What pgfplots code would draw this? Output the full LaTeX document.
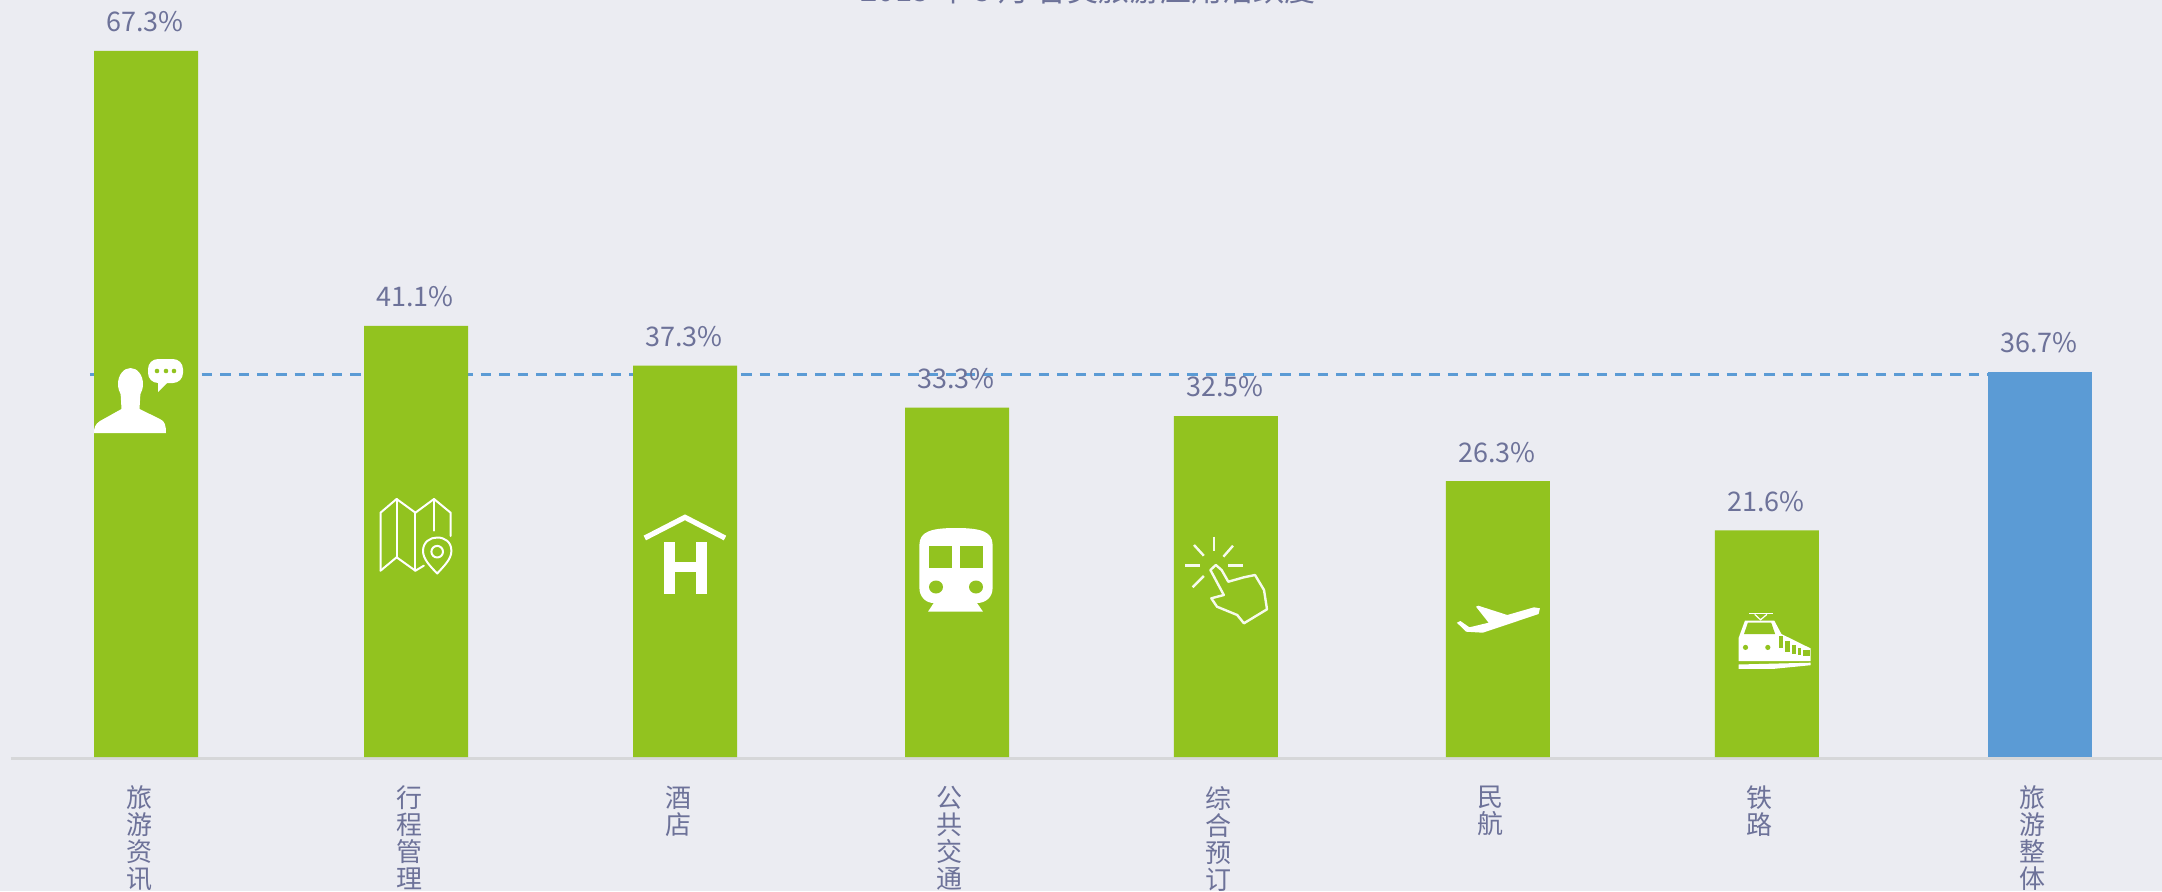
\documentclass[border=0pt]{standalone}
\usepackage{fontspec}
\setmainfont{Noto Sans CJK SC}
\usepackage{pgfplots}
\pgfplotsset{compat=1.18}
\definecolor{bg}{HTML}{EBECF2}
\definecolor{barg}{HTML}{92C31F}
\definecolor{barb}{HTML}{5B9BD5}
\definecolor{txt}{HTML}{6D7299}
\definecolor{base}{HTML}{D6D7D9}
\begin{document}
\begin{tikzpicture}
% 1 px of the reference = 0.5pt
\useasboundingbox[fill=bg] (0,0) rectangle (1081pt,445.5pt);
\clip (0,0) rectangle (1081pt,445.5pt);
\begin{axis}[
  at={(5.5pt,66.25pt)},
  anchor=south west,
  scale only axis,
  width=1075.5pt,
  height=379.25pt,
  xmin=-0.4989, xmax=7.450,
  ymin=-0.143, ymax=72.16,
  axis x line*=bottom,
  axis y line=none,
  x axis line style={-, draw=base, line width=1.5pt},
  xtick={0,0.998,1.992,2.997,3.991,4.996,5.990,6.999},
  xticklabels={{旅\\游\\资\\讯},{行\\程\\管\\理},{酒\\店},{公\\共\\交\\通},{综\\合\\预\\订},{民\\航},{铁\\路},{旅\\游\\整\\体}},
  xtick style={draw=none},
  xticklabel style={align=center, anchor=north, xshift=-3.5pt, yshift=-6pt, text=txt,
    font=\fontsize{13}{13.5}\selectfont},
  ytick=\empty,
  title={2015 年 5 月 各类旅游应用活跃度},
  every axis title shift=0pt,
  title style={at={(axis description cs:0.5,1)}, anchor=base, xshift=0.75pt, yshift=-0.5pt,
    text=txt, font=\fontsize{15.5}{18}\selectfont},
  ybar,
  bar width=52pt,
  bar shift=0pt,
  nodes near coords={\pgfmathprintnumber[fixed,precision=1,fixed zerofill,assume math mode=true]{\pgfplotspointmeta}\%},
  every node near coord/.append style={anchor=center, yshift=14.5pt, xshift=-0.5pt, text=txt,
    font=\fontsize{13.5}{16}\selectfont},
  clip=false,
]
% average line, behind the bars
\addplot[sharp plot, no markers, nodes near coords={}, draw=barb, line width=1.5pt,
  dash pattern=on 5.3pt off 4pt, forget plot] coordinates {(-0.207,36.5) (7.2,36.5)};
\addplot[ybar, fill=barg, draw=none] coordinates {
  (0,67.3) (0.998,41.1) (1.992,37.3) (2.997,33.3) (3.991,32.5) (4.996,26.3) (5.990,21.6)
};
\addplot[ybar, fill=barb, draw=none] coordinates {(6.999,36.7)};
\end{axis}
% icons, in pixel coordinates of the reference
\begin{scope}[x=0.5pt, y=-0.5pt, yshift=445.5pt]
  % person with speech bubble
  \fill[white] (130.5,384) ellipse (12.5 and 16);
  \fill[white] (120.5,392) -- (121.5,409) -- (100,421) .. controls (95,424) and (94,428) .. (94,433)
    -- (166,433) .. controls (166,426) and (165,421) .. (160,419) -- (139.5,409) -- (140.5,392) -- cycle;
  \fill[white, rounded corners=5] (148,359) rectangle (183,383);
  \fill[white] (158,380) -- (158,392) -- (168,382) -- cycle;
  \fill[barg] (157,371) circle (2.3) (166,371) circle (2.3) (174,371) circle (2.3);
  % map with pin
  \begin{scope}[draw=white, line width=1pt, line join=round, line cap=round]
    \draw (380.5,570.7) -- (380.5,512.7) -- (396.6,499) -- (415.4,512.7) -- (434,499) -- (450.6,512.7) -- (450.6,536);
    \draw (396.6,499) -- (396.6,557.3);
    \draw (380.5,570.7) -- (396.6,557.3) -- (415.4,570.7) -- (423.8,565.7);
    \draw (415.4,512.7) -- (415.4,570.7);
    \draw (434,499) -- (434,530.7);
    \draw (437.2,573.5) .. controls (430,566) and (423,559) .. (423,551)
      .. controls (423,542) and (430,537.5) .. (437.2,537.5)
      .. controls (445,537.5) and (451.4,542) .. (451.4,551)
      .. controls (451.4,559) and (444,566) .. (437.2,573.5) -- cycle;
    \draw (437.2,551.7) circle (5.8);
  \end{scope}
  % hotel
  \draw[white, line width=2.6pt] (644.8,538) -- (685,517.3) -- (725,538);
  \fill[white] (663.6,541.7) rectangle (674.6,594.3);
  \fill[white] (696.3,541.7) rectangle (707.3,594.3);
  \fill[white] (670,562) rectangle (700,572);
  % metro
  \fill[white] (919.4,545) .. controls (919.4,532) and (930,528) .. (956,528)
    .. controls (982,528) and (992.6,532) .. (992.6,545)
    -- (992.6,588) .. controls (992.6,597) and (986,603) .. (977,603)
    -- (983,611.7) -- (928,611.7) -- (933.7,603)
    .. controls (926,603) and (919.4,597) .. (919.4,588) -- cycle;
  \fill[barg] (929,546) rectangle (952,568);
  \fill[barg] (960,546) rectangle (983,568);
  \fill[barg] (936,587) ellipse (7 and 6.5);
  \fill[barg] (976,587) ellipse (7 and 6.5);
  % hand pressing
  \begin{scope}[draw=white!92!barg, line width=1.2pt, line join=round]
    \draw (1214,536.7) -- (1214,550.7);
    \draw (1194,545) -- (1203.8,555.7);
    \draw (1233,545.7) -- (1223.4,556.7);
    \draw (1185,565.3) -- (1200,565.3);
    \draw (1227.9,565.3) -- (1243,565.3);
    \draw (1203.8,576) -- (1192.6,587.3);
    \draw (1210.4,570) -- (1215.8,565) -- (1221.6,570) -- (1228.3,581.7) -- (1243.9,577.3)
      -- (1255,575) -- (1264,590) -- (1267,609.3) -- (1243.9,623.3) -- (1237.2,615)
      -- (1217,606.7) -- (1211.3,598.3) -- (1223.8,595) -- cycle;
  \end{scope}
  % plane
  \fill[white] (1539.9,608.3) -- (1534,607.3) -- (1507.3,615) -- (1478.3,605.7) -- (1476,606.7)
    -- (1488.6,622.7) -- (1469.4,627.3) -- (1460.4,621) -- (1456.9,622.7) -- (1463.6,629.3)
    -- (1466.2,631.7) -- (1482.8,632.7) -- (1538.6,614) -- cycle;
  % train
  \fill[white] (1745,620.5) -- (1774.2,620.5) -- (1781.4,634) -- (1810.6,648.4) -- (1810.6,661)
    -- (1738.7,661) -- (1738.7,637.7) -- cycle;
  \fill[white] (1738.7,664.5) -- (1810.6,662.7) -- (1810.6,665.2) -- (1774.2,668.8) -- (1738.7,668.8) -- cycle;
  \fill[barg] (1744,634) -- (1747.9,622.7) -- (1771.2,622.7) -- (1775.1,634) -- cycle;
  \fill[barg] (1745.5,647.4) circle (2.6) (1767.8,647.4) circle (2.6);
  \draw[white, line width=0.6pt] (1748.9,613.7) -- (1773.2,613.7);
  \draw[white, line width=0.6pt] (1754.7,614.4) -- (1760.5,619.8) -- (1766.9,614.4);
  \fill[barg] (1779,636) rectangle (1782.9,648.4);
  \fill[barg] (1785.3,641.3) rectangle (1789.7,652);
  \fill[barg] (1791.6,644.9) rectangle (1796,653.8);
  \fill[barg] (1797.5,647.7) rectangle (1801.4,654.9);
  \fill[barg] (1803.3,650.2) rectangle (1809.6,655.6);
\end{scope}
\end{tikzpicture}
\end{document}
